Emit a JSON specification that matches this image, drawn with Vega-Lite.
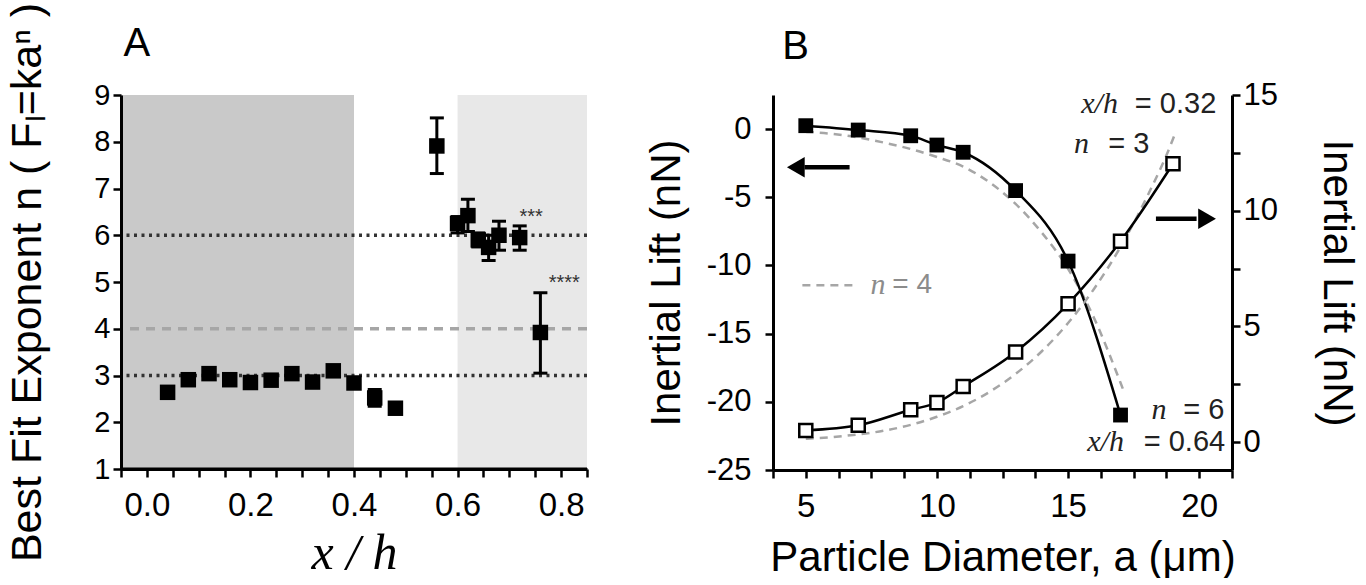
{
  "$schema": "https://vega.github.io/schema/vega-lite/v6.json",
  "background": "white",
  "padding": {"left": 6, "top": 2, "right": 5, "bottom": 0},
  "spacing": 56,
  "config": {
    "view": {"stroke": null},
    "axis": {
      "grid": false,
      "labelBound": false,
      "domainColor": "black",
      "domainWidth": 3,
      "tickColor": "black",
      "tickWidth": 2.5,
      "tickSize": 8,
      "labelFont": "Liberation Sans",
      "labelFontSize": 31,
      "labelColor": "black",
      "titleFont": "Liberation Sans",
      "titleFontSize": 42,
      "titleFontWeight": "normal",
      "titleColor": "black"
    }
  },
  "datasets": {
    "bands": [
      {"x": -0.05, "xe": 0.4, "y": 1, "ye": 9, "shade": "dark"},
      {"x": 0.6, "xe": 0.85, "y": 1, "ye": 9, "shade": "light"}
    ],
    "refs": [
      {"y": 6, "style": "dot"},
      {"y": 3, "style": "dot"},
      {"y": 4, "style": "dash"},
      {"y": 1, "style": "base"}
    ],
    "exponent": [
      {"x": 0.04, "y": 2.64},
      {"x": 0.08, "y": 2.91},
      {"x": 0.12, "y": 3.04},
      {"x": 0.16, "y": 2.91},
      {"x": 0.20, "y": 2.85},
      {"x": 0.24, "y": 2.90},
      {"x": 0.28, "y": 3.04},
      {"x": 0.32, "y": 2.86},
      {"x": 0.36, "y": 3.10},
      {"x": 0.40, "y": 2.84},
      {"x": 0.44, "y": 2.52},
      {"x": 0.48, "y": 2.30},
      {"x": 0.56, "y": 7.91},
      {"x": 0.60, "y": 6.25},
      {"x": 0.62, "y": 6.42},
      {"x": 0.64, "y": 5.90},
      {"x": 0.66, "y": 5.74},
      {"x": 0.68, "y": 6.00},
      {"x": 0.72, "y": 5.95},
      {"x": 0.76, "y": 3.92}
    ],
    "errors": [
      {"x": 0.44, "lo": 2.34, "hi": 2.70},
      {"x": 0.48, "lo": 2.20, "hi": 2.42},
      {"x": 0.56, "lo": 7.32, "hi": 8.51},
      {"x": 0.60, "lo": 6.05, "hi": 6.40},
      {"x": 0.62, "lo": 6.08, "hi": 6.77},
      {"x": 0.64, "lo": 5.75, "hi": 6.05},
      {"x": 0.66, "lo": 5.46, "hi": 6.00},
      {"x": 0.68, "lo": 5.68, "hi": 6.30},
      {"x": 0.72, "lo": 5.68, "hi": 6.20},
      {"x": 0.76, "lo": 3.05, "hi": 4.77}
    ],
    "stars": [
      {"x": 0.742, "y": 6.38, "t": "***"},
      {"x": 0.806, "y": 4.98, "t": "****"}
    ],
    "labelA": [{"x": -0.045, "y": 10.1, "t": "A"}],
    "filled": [
      {"a": 5, "v": 0.25},
      {"a": 7, "v": -0.07},
      {"a": 9, "v": -0.49},
      {"a": 10, "v": -1.17},
      {"a": 11, "v": -1.70},
      {"a": 13, "v": -4.51},
      {"a": 15, "v": -9.68},
      {"a": 17, "v": -20.97}
    ],
    "n4left": [
      {"a": 5, "v": -0.2},
      {"a": 6, "v": -0.35},
      {"a": 7, "v": -0.61},
      {"a": 8, "v": -1.0},
      {"a": 9, "v": -1.46},
      {"a": 10, "v": -2.05},
      {"a": 11, "v": -2.75},
      {"a": 12, "v": -3.9},
      {"a": 13, "v": -5.49},
      {"a": 14, "v": -7.6},
      {"a": 15, "v": -10.24},
      {"a": 16, "v": -13.9},
      {"a": 17, "v": -18.6},
      {"a": 17.1, "v": -19.1}
    ],
    "open": [
      {"a": 5, "v": 0.51},
      {"a": 7, "v": 0.73},
      {"a": 9, "v": 1.40},
      {"a": 10, "v": 1.71},
      {"a": 11, "v": 2.41},
      {"a": 13, "v": 3.90},
      {"a": 15, "v": 5.98},
      {"a": 17, "v": 8.68},
      {"a": 19, "v": 12.03}
    ],
    "n4right": [
      {"a": 5, "v": 0.15},
      {"a": 6, "v": 0.22},
      {"a": 7, "v": 0.34},
      {"a": 8, "v": 0.5},
      {"a": 9, "v": 0.75},
      {"a": 10, "v": 1.1},
      {"a": 11, "v": 1.56},
      {"a": 12, "v": 2.17},
      {"a": 13, "v": 2.95},
      {"a": 14, "v": 3.93},
      {"a": 15, "v": 5.15},
      {"a": 16, "v": 6.64},
      {"a": 17, "v": 8.44},
      {"a": 18, "v": 10.58},
      {"a": 19, "v": 13.1},
      {"a": 19.1, "v": 13.4}
    ],
    "shafts": [
      {"a": 4.95, "a2": 6.67, "v": -2.8},
      {"a": 18.35, "a2": 19.9, "v": -6.58}
    ],
    "heads": [
      {"a": 4.62, "v": -2.8, "dir": "left"},
      {"a": 20.3, "v": -6.58, "dir": "right"}
    ],
    "notesItalic": [
      {"a": 16.9, "v": 1.83, "t": "x/h"},
      {"a": 15.8, "v": -1.1, "t": "n"},
      {"a": 18.75, "v": -20.6, "t": "n"},
      {"a": 17.13, "v": -22.92, "t": "x/h"}
    ],
    "notesSans": [
      {"a": 20.65, "v": 1.83, "t": "= 0.32"},
      {"a": 18.1, "v": -1.1, "t": "= 3"},
      {"a": 20.96, "v": -20.6, "t": "= 6"},
      {"a": 20.99, "v": -22.92, "t": "= 0.64"}
    ],
    "legendLine": [{"a": 4.87, "a2": 6.85, "v": -11.46}],
    "legendN": [{"a": 7.47, "v": -11.46, "t": "n"}],
    "legendEq": [{"a": 8.3, "v": -11.46, "t": "= 4"}],
    "labelB": [{"a": 4.1, "v": 6.0, "t": "B"}]
  },
  "hconcat": [
    {
      "width": 466,
      "height": 374,
      "layer": [
        {
          "layer": [
            {
              "data": {"name": "bands"},
              "mark": {"type": "rect"},
              "encoding": {
                "x": {
                  "field": "x", "type": "quantitative",
                  "scale": {"domain": [-0.05, 0.85], "nice": false, "zero": false},
                  "axis": {
                    "orient": "bottom",
                    "zindex": 2,
                    "title": "x / h",
                    "titleFont": "Liberation Serif",
                    "titleFontStyle": "italic",
                    "titleFontSize": 50,
                    "titlePadding": 6,
                    "labelFlush": false,
                    "values": [0, 0.2, 0.4, 0.6, 0.8],
                    "format": ".1f",
                    "labelPadding": 12,
                    "labelFontSize": 33
                  }
                },
                "x2": {"field": "xe"},
                "y": {
                  "field": "y", "type": "quantitative",
                  "scale": {"domain": [1, 9], "nice": false, "zero": false},
                  "axis": {
                    "zindex": 2,
                    "title": "Best Fit Exponent n ( Fₗ=kaⁿ )",
                    "titleFontSize": 43,
                    "titlePadding": 44,
                    "values": [1, 1.5, 2, 2.5, 3, 3.5, 4, 4.5, 5, 5.5, 6, 6.5, 7, 7.5, 8, 8.5, 9],
                    "labelExpr": "datum.value % 1 === 0 ? datum.label : ''",
                    "labelPadding": 3,
                    "labelFontSize": 29
                  }
                },
                "y2": {"field": "ye"},
                "color": {
                  "field": "shade", "type": "nominal",
                  "scale": {"domain": ["dark", "light"], "range": ["#c9c9c9", "#e8e8e8"]},
                  "legend": null
                }
              }
            },
            {
              "data": {"name": "refs"},
              "transform": [{"filter": "datum.style === 'base'"}],
              "mark": {"type": "rule", "strokeWidth": 3, "color": "black"},
              "encoding": {"y": {"field": "y", "type": "quantitative"}}
            },
            {
              "data": {"name": "refs"},
              "transform": [{"filter": "datum.style === 'dot'"}],
              "mark": {"type": "rule", "strokeDash": [3, 4.5], "strokeWidth": 3.5, "color": "#333333"},
              "encoding": {"y": {"field": "y", "type": "quantitative"}}
            },
            {
              "data": {"name": "refs"},
              "transform": [{"filter": "datum.style === 'dash'"}],
              "mark": {"type": "rule", "strokeDash": [9, 7], "strokeWidth": 3.5, "color": "#a6a6a6"},
              "encoding": {"y": {"field": "y", "type": "quantitative"}}
            },
            {
              "data": {"name": "errors"},
              "mark": {"type": "rule", "strokeWidth": 3, "color": "black"},
              "encoding": {
                "x": {"field": "x", "type": "quantitative"},
                "y": {"field": "lo", "type": "quantitative", "title": "Best Fit Exponent n ( Fₗ=kaⁿ )"},
                "y2": {"field": "hi"}
              }
            },
            {
              "data": {"name": "errors"},
              "mark": {"type": "tick", "orient": "horizontal", "size": 14, "thickness": 3, "color": "black", "opacity": 1},
              "encoding": {
                "x": {"field": "x", "type": "quantitative"},
                "y": {"field": "lo", "type": "quantitative", "title": "Best Fit Exponent n ( Fₗ=kaⁿ )"}
              }
            },
            {
              "data": {"name": "errors"},
              "mark": {"type": "tick", "orient": "horizontal", "size": 14, "thickness": 3, "color": "black", "opacity": 1},
              "encoding": {
                "x": {"field": "x", "type": "quantitative"},
                "y": {"field": "hi", "type": "quantitative", "title": "Best Fit Exponent n ( Fₗ=kaⁿ )"}
              }
            },
            {
              "data": {"name": "exponent"},
              "mark": {"type": "point", "shape": "square", "filled": true, "size": 240, "color": "black", "opacity": 1},
              "encoding": {
                "x": {"field": "x", "type": "quantitative"},
                "y": {"field": "y", "type": "quantitative"}
              }
            },
            {
              "data": {"name": "labelA"},
              "mark": {"type": "text", "font": "Liberation Sans", "fontSize": 40, "color": "black", "align": "left", "baseline": "middle"},
              "encoding": {
                "x": {"field": "x", "type": "quantitative"},
                "y": {"field": "y", "type": "quantitative"},
                "text": {"field": "t"}
              }
            }
          ]
        },
        {
          "layer": [
            {
              "data": {"name": "stars"},
              "mark": {"type": "text", "font": "Liberation Sans", "fontSize": 20, "color": "#333333", "baseline": "middle"},
              "encoding": {
                "x": {
                  "field": "x", "type": "quantitative",
                  "axis": {
                    "orient": "bottom",
                    "zindex": 2,
                    "title": null,
                    "labels": false,
                    "domain": false,
                    "tickSize": 8,
                    "tickWidth": 2.5,
                    "tickColor": "black",
                    "values": [-0.05, 0.05, 0.1, 0.15, 0.25, 0.3, 0.35, 0.45, 0.5, 0.55, 0.65, 0.7, 0.75, 0.85]
                  }
                },
                "y": {"field": "y", "type": "quantitative"},
                "text": {"field": "t"}
              }
            }
          ]
        }
      ],
      "resolve": {"axis": {"x": "independent"}}
    },
    {
      "width": 459,
      "height": 375,
      "layer": [
        {
          "layer": [
            {
              "data": {"name": "n4left"},
              "mark": {"type": "line", "interpolate": "monotone", "strokeDash": [8, 6], "strokeWidth": 2.5, "color": "#a6a6a6"},
              "encoding": {
                "x": {
                  "field": "a", "type": "quantitative",
                  "scale": {"domain": [3.75, 21.25], "nice": false, "zero": false},
                  "axis": {
                    "orient": "bottom",
                    "zindex": 2,
                    "title": "Particle Diameter, a (μm)",
                    "titlePadding": 14,
                    "labelFlush": false,
                    "values": [5, 10, 15, 20],
                    "labelPadding": 12,
                    "labelFontSize": 33
                  }
                },
                "y": {
                  "field": "v", "type": "quantitative",
                  "scale": {"domain": [-25, 2.5], "nice": false, "zero": false},
                  "axis": {
                    "orient": "left",
                    "zindex": 2,
                    "title": "Inertial Lift (nN)",
                    "titlePadding": 18,
                    "values": [-25, -22.5, -20, -17.5, -15, -12.5, -10, -7.5, -5, -2.5, 0, 2.5],
                    "labelExpr": "datum.value % 5 === 0 ? (datum.value < 0 ? '-' + abs(datum.value) : '' + datum.value) : ''",
                    "labelPadding": 14,
                    "labelFontSize": 31
                  }
                }
              }
            },
            {
              "data": {"name": "filled"},
              "mark": {"type": "line", "interpolate": "monotone", "strokeWidth": 2.5, "color": "black"},
              "encoding": {
                "x": {"field": "a", "type": "quantitative"},
                "y": {"field": "v", "type": "quantitative"}
              }
            },
            {
              "data": {"name": "filled"},
              "mark": {"type": "point", "shape": "square", "filled": true, "size": 220, "color": "black", "opacity": 1},
              "encoding": {
                "x": {"field": "a", "type": "quantitative"},
                "y": {"field": "v", "type": "quantitative"}
              }
            },
            {
              "data": {"name": "shafts"},
              "mark": {"type": "rule", "strokeWidth": 4.5, "color": "black"},
              "encoding": {
                "x": {"field": "a", "type": "quantitative"},
                "x2": {"field": "a2"},
                "y": {"field": "v", "type": "quantitative"}
              }
            },
            {
              "data": {"name": "heads"},
              "mark": {"type": "point", "filled": true, "size": 420, "color": "black", "opacity": 1},
              "encoding": {
                "x": {"field": "a", "type": "quantitative"},
                "y": {"field": "v", "type": "quantitative"},
                "shape": {
                  "field": "dir", "type": "nominal",
                  "scale": {"domain": ["left", "right"], "range": ["triangle-left", "triangle-right"]},
                  "legend": null
                }
              }
            },
            {
              "data": {"name": "legendLine"},
              "mark": {"type": "rule", "strokeDash": [8, 6], "strokeWidth": 2.5, "color": "#a6a6a6"},
              "encoding": {
                "x": {"field": "a", "type": "quantitative"},
                "x2": {"field": "a2"},
                "y": {"field": "v", "type": "quantitative"}
              }
            },
            {
              "data": {"name": "legendN"},
              "mark": {"type": "text", "font": "Liberation Serif", "fontStyle": "italic", "fontSize": 30, "color": "#8c8c8c", "align": "left", "baseline": "middle"},
              "encoding": {
                "x": {"field": "a", "type": "quantitative"},
                "y": {"field": "v", "type": "quantitative"},
                "text": {"field": "t"}
              }
            },
            {
              "data": {"name": "legendEq"},
              "mark": {"type": "text", "font": "Liberation Sans", "fontSize": 28, "color": "#8c8c8c", "align": "left", "baseline": "middle"},
              "encoding": {
                "x": {"field": "a", "type": "quantitative"},
                "y": {"field": "v", "type": "quantitative"},
                "text": {"field": "t"}
              }
            },
            {
              "data": {"name": "notesItalic"},
              "mark": {"type": "text", "font": "Liberation Serif", "fontStyle": "italic", "fontSize": 30, "color": "#222222", "align": "right", "baseline": "middle"},
              "encoding": {
                "x": {"field": "a", "type": "quantitative"},
                "y": {"field": "v", "type": "quantitative"},
                "text": {"field": "t"}
              }
            },
            {
              "data": {"name": "notesSans"},
              "mark": {"type": "text", "font": "Liberation Sans", "fontSize": 29, "color": "#222222", "align": "right", "baseline": "middle"},
              "encoding": {
                "x": {"field": "a", "type": "quantitative"},
                "y": {"field": "v", "type": "quantitative"},
                "text": {"field": "t"}
              }
            },
            {
              "data": {"name": "labelB"},
              "mark": {"type": "text", "font": "Liberation Sans", "fontSize": 40, "color": "black", "align": "left", "baseline": "middle"},
              "encoding": {
                "x": {"field": "a", "type": "quantitative"},
                "y": {"field": "v", "type": "quantitative"},
                "text": {"field": "t"}
              }
            }
          ]
        },
        {
          "layer": [
            {
              "data": {"name": "n4right"},
              "mark": {"type": "line", "interpolate": "monotone", "strokeDash": [8, 6], "strokeWidth": 2.5, "color": "#a6a6a6"},
              "encoding": {
                "x": {
                  "field": "a", "type": "quantitative",
                  "axis": {
                    "orient": "bottom",
                    "zindex": 2,
                    "title": null,
                    "labels": false,
                    "domain": false,
                    "tickSize": 8,
                    "tickWidth": 2.5,
                    "tickColor": "black",
                    "values": [3.75, 6.25, 7.5, 8.75, 11.25, 12.5, 13.75, 16.25, 17.5, 18.75, 21.25]
                  }
                },
                "y": {
                  "field": "v", "type": "quantitative",
                  "scale": {"domain": [-1.2, 15], "nice": false, "zero": false},
                  "axis": {
                    "orient": "right",
                    "zindex": 2,
                    "title": "Inertial Lift (nN)",
                    "titlePadding": 37,
                    "values": [0, 2.5, 5, 7.5, 10, 12.5, 15],
                    "labelExpr": "datum.value % 5 === 0 ? datum.label : ''",
                    "labelPadding": 3,
                    "labelFontSize": 31
                  }
                }
              }
            },
            {
              "data": {"name": "open"},
              "mark": {"type": "line", "interpolate": "monotone", "strokeWidth": 2.5, "color": "black"},
              "encoding": {
                "x": {"field": "a", "type": "quantitative"},
                "y": {"field": "v", "type": "quantitative"}
              }
            },
            {
              "data": {"name": "open"},
              "mark": {"type": "point", "shape": "square", "filled": true, "size": 170, "color": "white", "stroke": "black", "strokeWidth": 2.5, "opacity": 1},
              "encoding": {
                "x": {"field": "a", "type": "quantitative"},
                "y": {"field": "v", "type": "quantitative"}
              }
            }
          ]
        }
      ],
      "resolve": {"scale": {"y": "independent"}, "axis": {"x": "independent"}}
    }
  ]
}
